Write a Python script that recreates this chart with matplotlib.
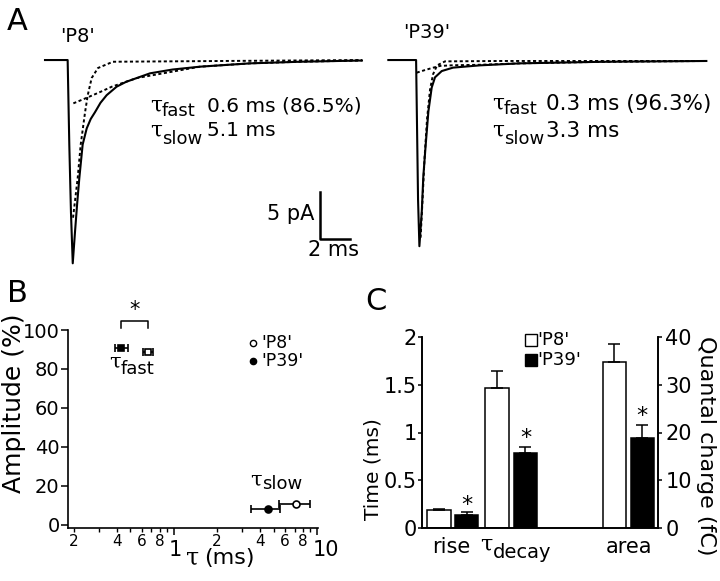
import matplotlib
matplotlib.use('agg')
import matplotlib.pyplot as plt
from matplotlib.transforms import ScaledTranslation

plt.rcParams['font.family'] = ['DejaVu Sans']

W, H = 720, 581

# ---- A: averaged mEPSCs, time (ms) and current (pA) ----
p8_t = [0, 1.51, 1.62, 1.73, 1.85, 2.0, 2.15, 2.29, 2.51, 2.78, 3.05, 3.33, 3.7, 4.11, 4.78, 5.4, 6.11, 7.0, 8.5, 10.33, 13.67, 17.0, 21.13]
p8_i = [0, 0, -8.9, -16.0, -21.4, -18.1, -15.0, -12.4, -8.9, -7.2, -6.2, -5.5, -4.5, -3.7, -2.8, -2.3, -1.9, -1.4, -1.0, -0.7, -0.35, -0.18, -0.05]
p8_fast_t = [1.87, 2.18, 2.38, 2.67, 2.85, 3.11, 3.53, 4.53, 21.13]
p8_fast_i = [-16.6, -12.4, -8.9, -5.5, -3.7, -1.9, -0.84, -0.18, 0]
p8_slow_t = [1.89, 2.67, 3.67, 4.45, 6.11, 10.33, 13.67, 17.0, 21.13]
p8_slow_i = [-4.56, -4.05, -3.37, -2.81, -1.9, -0.7, -0.35, -0.18, -0.05]

p39_t = [0, 1.85, 1.98, 2.07, 2.23, 2.33, 2.49, 2.67, 2.89, 3.11, 3.56, 4.31, 6.11, 8.78, 14.1, 21.2]
p39_i = [0, 0, -14.7, -19.6, -15.9, -12.3, -8.9, -5.4, -2.9, -1.82, -1.16, -0.8, -0.56, -0.35, -0.19, -0.1]
p39_fast_t = [2.15, 2.28, 2.41, 2.58, 2.78, 2.98, 3.25, 3.78, 7.45, 21.2]
p39_fast_i = [-18.7, -14.7, -10.4, -6.2, -3.1, -1.5, -0.56, -0.14, -0.1, -0.1]
p39_slow_t = [1.89, 2.45, 3.0, 3.45, 4.31, 6.11, 8.78, 14.1, 21.2]
p39_slow_i = [-1.33, -1.05, -0.80, -0.62, -0.55, -0.5, -0.35, -0.19, -0.1]

fit_text = {"P8": ("0.6 ms (86.5%)", "5.1 ms"), "P39": ("0.3 ms (96.3%)", "3.3 ms")}
bar_pa, bar_ms = 5, 2

# ---- B: tau (ms) vs amplitude (%) ----
tau_fast = [0.667, 0.430]          # P8, P39
tau_fast_lo = [0.615, 0.390]
tau_fast_hi = [0.722, 0.478]
amp_fast = [88.6, 90.6]
tau_slow = [7.19, 4.53]
tau_slow_lo = [5.41, 3.47]
tau_slow_hi = [8.91, 5.56]
amp_slow = [10.6, 8.05]

# ---- C: kinetics and charge ----
rise = [0.189, 0.144]
rise_err = [0.017, 0.021]
decay = [1.461, 0.782]
decay_err = [0.185, 0.069]
area = [34.8, 18.9]                # fC
area_err = [3.7, 2.6]


def fx(x):
    return x / W


def fy(y):
    return 1 - y / H


fig = plt.figure(figsize=(7.2, 5.81), dpi=100)

# panel A, one axes in ms / pA
axa = fig.add_axes([0, fy(290), 1, 290 / H])
axa.set_xlim(0, 48)
axa.set_ylim(-24.21, 6.32)
axa.axis('off')
dots = (0, (1.6, 1.3))
for t0, tt, ii, ft, fi, st, si in [
        (3.0, p8_t, p8_i, p8_fast_t, p8_fast_i, p8_slow_t, p8_slow_i),
        (25.89, p39_t, p39_i, p39_fast_t, p39_fast_i, p39_slow_t, p39_slow_i)]:
    axa.plot([t0 + t for t in tt], ii, color='black', lw=1.5)
    axa.plot([t0 + t for t in ft], fi, color='black', lw=1.4, ls=dots)
    axa.plot([t0 + t for t in st], si, color='black', lw=1.4, ls=dots)
sx, sy = 21.33, -18.87
axa.plot([sx, sx, sx + bar_ms], [sy + bar_pa, sy, sy], color='black', lw=1.8)
fig.text(fx(314), fy(214), f"{bar_pa} pA", ha='right', va='center', fontsize=15)
fig.text(fx(333), fy(250), f"{bar_ms} ms", ha='center', va='center', fontsize=15)

fig.text(fx(17), fy(22), "A", ha='center', va='center', fontsize=22)
fig.text(fx(77), fy(37), "'P8'", ha='center', va='center', fontsize=14)
fig.text(fx(427), fy(33), "'P39'", ha='center', va='center', fontsize=14)

for x0, xv, key, y1, y2, fs in [(150, 207, "P8", 106, 131, 14.5), (492, 546, "P39", 104, 131, 15.5)]:
    fig.text(fx(x0), fy(y1), "τ", family='DejaVu Serif', ha='left', va='center', fontsize=15.5)
    fig.text(fx(x0 + 12), fy(y1 + 5), "fast", ha='left', va='center', fontsize=13)
    fig.text(fx(xv), fy(y1), fit_text[key][0], ha='left', va='center', fontsize=fs)
    fig.text(fx(x0), fy(y2), "τ", family='DejaVu Serif', ha='left', va='center', fontsize=15.5)
    fig.text(fx(x0 + 12), fy(y2 + 8), "slow", ha='left', va='center', fontsize=13)
    fig.text(fx(xv), fy(y2), fit_text[key][1], ha='left', va='center', fontsize=fs)

# panel B
axb = fig.add_axes([fx(68), fy(528), (318 - 68) / W, (528 - 330) / H])
axb.set_xscale('log')
axb.set_xlim(0.183, 10.2)
axb.set_ylim(-1.54, 100)
for side in ['top', 'right']:
    axb.spines[side].set_visible(False)
for side in ['left', 'bottom']:
    axb.spines[side].set_linewidth(1.2)
faces = ['white', 'black']
for k in range(2):
    axb.errorbar([tau_fast[k]], [amp_fast[k]],
                 xerr=[[tau_fast[k] - tau_fast_lo[k]], [tau_fast_hi[k] - tau_fast[k]]],
                 fmt='s', ms=5, mfc=faces[k], mec='black', mew=1.2,
                 ecolor='black', elinewidth=1.2, capsize=3, capthick=1.2)
    axb.errorbar([tau_slow[k]], [amp_slow[k]],
                 xerr=[[tau_slow[k] - tau_slow_lo[k]], [tau_slow_hi[k] - tau_slow[k]]],
                 fmt='o', ms=5, mfc=faces[k], mec='black', mew=1.2,
                 ecolor='black', elinewidth=1.2, capsize=3, capthick=1.2)
# significance bracket
axb.plot([tau_fast[1], tau_fast[1], tau_fast[0], tau_fast[0]], [101, 104.6, 104.6, 101],
         color='black', lw=1.1, clip_on=False)
axb.text((tau_fast[0] * tau_fast[1]) ** 0.5, 110.5, "*", ha='center', va='center', fontsize=15)

axb.set_yticks([0, 20, 40, 60, 80, 100])
axb.set_xticks([1, 10], labels=['1', '10'])
minor = [0.2, 0.3, 0.4, 0.5, 0.6, 0.7, 0.8, 0.9, 2, 3, 4, 5, 6, 7, 8, 9]
minor_lab = ['2', '', '4', '', '6', '', '8', '', '2', '', '4', '', '6', '', '8', '']
axb.set_xticks(minor, labels=minor_lab, minor=True)
axb.tick_params(axis='y', direction='out', length=5, width=1.1, pad=1, labelsize=14)
axb.tick_params(axis='x', which='major', direction='out', length=5, width=1.1, pad=4, labelsize=15)
axb.tick_params(axis='x', which='minor', direction='out', length=3, width=1, pad=1, labelsize=11)
for lab, dx in zip(axb.get_xticklabels(), [2, 9]):
    lab.set_transform(lab.get_transform() + ScaledTranslation(dx / 100, 0, fig.dpi_scale_trans))

fig.text(fx(17), fy(293), "B", ha='center', va='center', fontsize=22)
fig.text(fx(14), fy(403), "Amplitude (%)", rotation=90, ha='center', va='center', fontsize=18)
fig.text(fx(199), fy(558), "τ", family='DejaVu Serif', ha='right', va='center', fontsize=17)
fig.text(fx(204), fy(558), "(ms)", ha='left', va='center', fontsize=16)
fig.text(fx(109), fy(362), "τ", family='DejaVu Serif', ha='left', va='center', fontsize=15)
fig.text(fx(121), fy(369), "fast", ha='left', va='center', fontsize=13)
fig.text(fx(250), fy(480), "τ", family='DejaVu Serif', ha='left', va='center', fontsize=15)
fig.text(fx(262), fy(484), "slow", ha='left', va='center', fontsize=13)
# legend B
for yy, face, lab in [(343, 'white', "'P8'"), (361, 'black', "'P39'")]:
    axb.plot([fx(253)], [fy(yy)], marker='o', ms=4.5, mfc=face, mec='black', mew=1,
             transform=fig.transFigure, clip_on=False)
    fig.text(fx(261), fy(yy), lab, ha='left', va='center', fontsize=12.5)

# panel C
axc = fig.add_axes([fx(422.3), fy(528.3), (658.3 - 422.3) / W, (528.3 - 336.7) / H])
axc.set_xlim(-0.58, 7.70)
axc.set_ylim(0, 2)
axc2 = axc.twinx()
axc2.set_ylim(0, 40)
for a in (axc, axc2):
    a.spines['top'].set_visible(False)
    for side in ['left', 'right', 'bottom']:
        a.spines[side].set_linewidth(1.2)
pos = [[0.0, 0.98], [2.04, 3.04], [6.16, 7.14]]
bw = 0.82
for k in range(2):
    fc = faces[k]
    axc.bar(pos[0][k], rise[k], bw, color=fc, edgecolor='black', lw=1.1)
    axc.errorbar(pos[0][k], rise[k], yerr=[[0], [rise_err[k]]], fmt='none',
                 ecolor='black', elinewidth=1.1, capsize=4, capthick=1.1)
    axc.bar(pos[1][k], decay[k], bw, color=fc, edgecolor='black', lw=1.1)
    axc.errorbar(pos[1][k], decay[k], yerr=[[0], [decay_err[k]]], fmt='none',
                 ecolor='black', elinewidth=1.1, capsize=4, capthick=1.1)
    axc2.bar(pos[2][k], area[k], bw, color=fc, edgecolor='black', lw=1.1)
    axc2.errorbar(pos[2][k], area[k], yerr=[[0], [area_err[k]]], fmt='none',
                  ecolor='black', elinewidth=1.1, capsize=4, capthick=1.1)
axc.text(pos[0][1], rise[1] + rise_err[1] + 0.08, "*", ha='center', va='center', fontsize=16)
axc.text(pos[1][1], decay[1] + decay_err[1] + 0.09, "*", ha='center', va='center', fontsize=16)
axc2.text(pos[2][1], area[1] + area_err[1] + 2.0, "*", ha='center', va='center', fontsize=16)

axc.set_xticks([])
axc.set_yticks([0, 0.5, 1, 1.5, 2], labels=['0', '0.5', '1', '1.5', '2'])
axc2.set_yticks([0, 10, 20, 30, 40])
axc.tick_params(axis='y', direction='out', length=3, width=1.1, pad=1, labelsize=15)
axc2.tick_params(axis='y', direction='out', length=3, width=1.1, pad=2, labelsize=15)

fig.text(fx(376), fy(302), "C", ha='center', va='center', fontsize=22)
fig.text(fx(373), fy(469), "Time (ms)", rotation=90, ha='center', va='center', fontsize=14.5)
fig.text(fx(706), fy(446), "Quantal charge (fC)", rotation=270, ha='center', va='center', fontsize=16)
fig.text(fx(451), fy(547), "rise", ha='center', va='center', fontsize=15)
fig.text(fx(480), fy(545), "τ", family='DejaVu Serif', ha='left', va='center', fontsize=16)
fig.text(fx(493), fy(553), "decay", ha='left', va='center', fontsize=14)
fig.text(fx(629), fy(547), "area", ha='center', va='center', fontsize=15)
# legend C
for yy, face, lab in [(340, 'white', "'P8'"), (360, 'black', "'P39'")]:
    axc.plot([fx(531)], [fy(yy)], marker='s', ms=8, mfc=face, mec='black', mew=1,
             transform=fig.transFigure, clip_on=False)
    fig.text(fx(537), fy(yy), lab, ha='left', va='center', fontsize=13)

fig.savefig('out.png', dpi=100)
